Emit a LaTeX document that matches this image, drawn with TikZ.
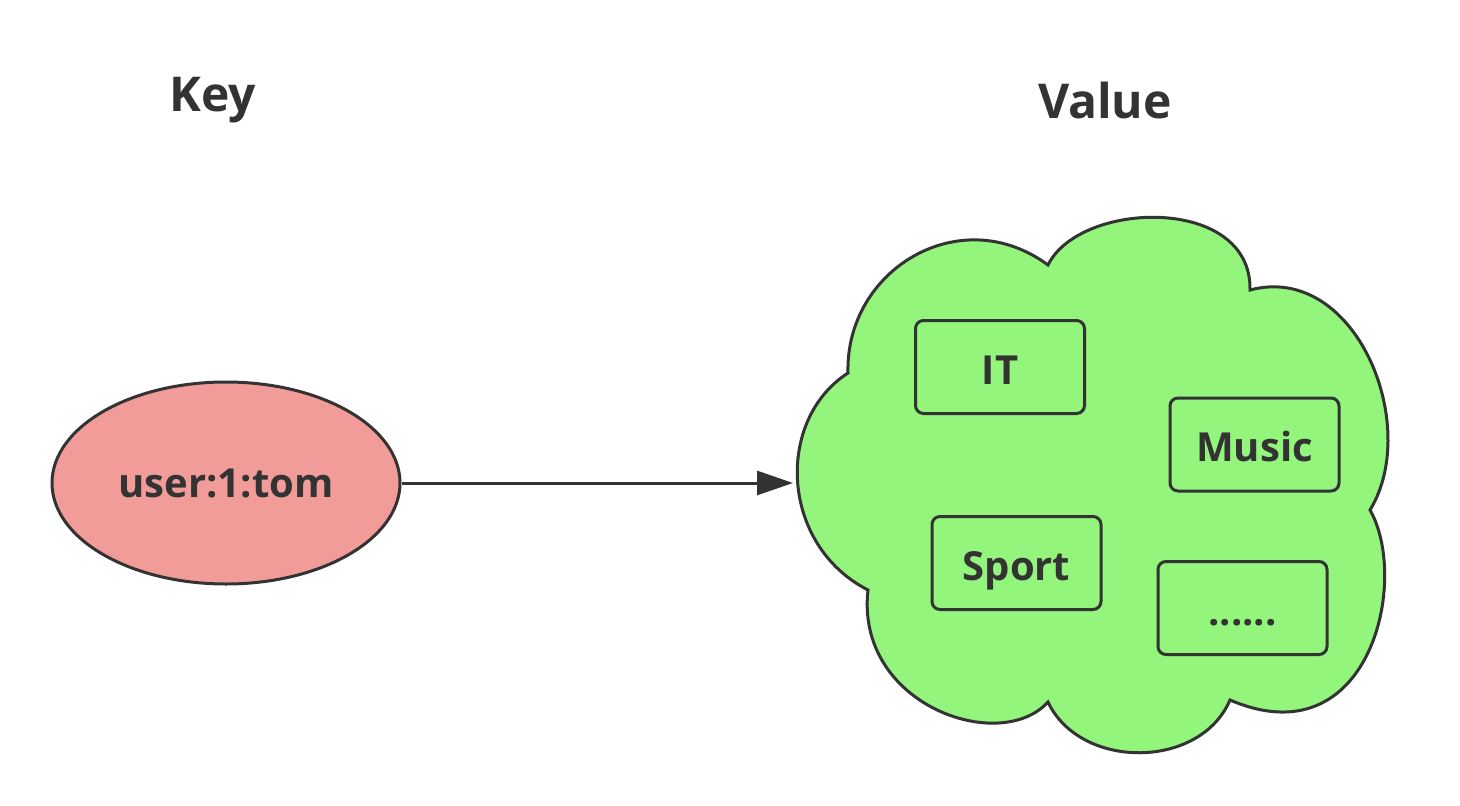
\documentclass[tikz,border=0pt]{standalone}
\usepackage{fontspec}
\setmainfont{Open Sans}
\usetikzlibrary{arrows.meta,shapes.geometric}
\definecolor{ink}{HTML}{333333}
\definecolor{keyfill}{HTML}{F19C99}
\definecolor{cloudfill}{HTML}{93F57B}
\tikzset{
  title/.style={font=\fontsize{48}{56}\selectfont\bfseries, text=ink},
  item/.style={draw=ink, line width=3pt, fill=cloudfill, rounded corners=8pt,
    minimum width=169pt, minimum height=93pt, inner sep=0pt,
    text height=34pt, text depth=0pt,
    font=\fontsize{40}{48}\selectfont\bfseries, text=ink},
  keynode/.style={ellipse, draw=ink, line width=3pt, fill=keyfill,
    minimum width=348pt, minimum height=202pt, inner sep=0pt,
    font=\fontsize{40}{48}\selectfont\bfseries, text=ink},
  cloudshape/.style={draw=ink, line width=3pt, fill=cloudfill},
  link/.style={draw=ink, line width=3pt, -{Triangle[length=36pt,width=24pt]}}
}
\begin{document}
\begin{tikzpicture}[x=1pt,y=-1pt]
\useasboundingbox (0,0) rectangle (1460,806);
% titles
\node[title] (keytitle) at (213,100) {Key};
\node[title] (valuetitle) at (1105,100) {Value};
% key ellipse
\node[keynode] (key) at (226,483) {user:1:tom};
% cloud
\path[cloudshape]
  (848,373) .. controls (845,270) and (960,200) .. (1048,265)
  .. controls (1080,200) and (1252,195) .. (1250,290)
  .. controls (1355,262) and (1422,425) .. (1370,510)
  .. controls (1410,580) and (1370,760) .. (1230,700)
  .. controls (1200,770) and (1080,770) .. (1048,702)
  .. controls (1000,755) and (855,705) .. (868,590)
  .. controls (780,545) and (775,420) .. (848,373) -- cycle;
\coordinate (cloudleft) at (793,483);
% items
\node[item] (it) at (1000,367) {IT};
\node[item] (music) at (1254.5,444.5) {Music};
\node[item] (sport) at (1016.5,563) {Sport};
\node[item] (more) at (1242.5,608) {......};
% connector
\draw[link] (key.east) -- (cloudleft);
\end{tikzpicture}
\end{document}
